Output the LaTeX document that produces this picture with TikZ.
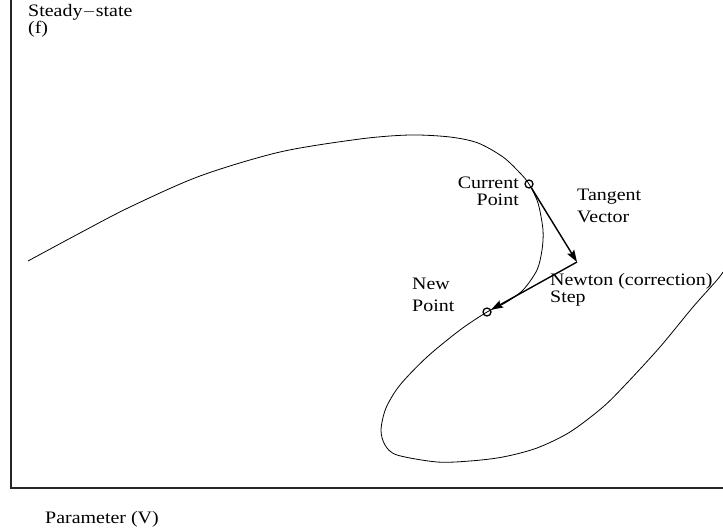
\documentclass[tikz,border=0pt]{standalone}
\usepackage{fontspec}
\setmainfont{Liberation Serif}[FakeStretch=1.14]
\usetikzlibrary{arrows.meta}
\begin{document}
\begin{tikzpicture}[x=1pt,y=-1pt,
  lbl/.style={inner sep=0pt,align=left,font={\fontsize{17.5}{13}\selectfont\lineskiplimit=-20pt}},
  lblr/.style={lbl,align=right},
  axis/.style={line width=1.3pt,draw=black!85},
  curve/.style={line width=0.8pt},
  vec/.style={line width=1.4pt,-{Stealth[length=12pt,width=8pt,inset=2pt]}},
  pt/.style={circle,draw,line width=1.3pt,minimum size=8pt,inner sep=0pt}]
\useasboundingbox (0,0) rectangle (723,529);
% axes
\coordinate (ytop) at (11,0);
\coordinate (O) at (11,488);
\coordinate (xend) at (723,488);
\draw[axis] (ytop) -- (O) -- (xend);
% solution curve
\draw[curve] plot[smooth,tension=0.5] coordinates {
 (28,261) (80,233) (130,207) (200,176) (280,152) (360,139) (410,135)
 (450,137) (478,143) (503,157) (520,173) (529,184) (538,203) (543,230)
 (542,250) (537,270) (523,290) (505,303) (487,312) (460,330) (427,357)
 (400,385) (386,408) (381,430) (385,445) (397,455) (437,462) (470,461)
 (503,457) (537,448) (570,432) (603,407) (627,383) (660,347) (693,307)
 (717,280) (723,272)};
% points
\node[pt] (cur) at (529,184) {};
\node[pt] (new) at (487,312) {};
\coordinate (tip) at (577,262);
\draw[vec] (cur) -- (tip);
\draw[vec] (tip) -- (new);
% labels
\node[lbl,anchor=north west] (ylab) at (28,4) {Steady$-$state\\[4.5pt](f)};
\node[lbl,anchor=base west] (xlab) at (45,523) {Parameter (V)};
\node[lblr,anchor=north east] (curlab) at (519,177) {Current\\[4pt]Point};
\node[lbl,anchor=north west] (tanlab) at (577,189) {Tangent\\[9pt]Vector};
\node[lbl,anchor=north west] (newtlab) at (550,273) {Newton (correction)\\[4pt]Step};
\node[lbl,anchor=north west] (newlab) at (412,278) {New\\[9pt]Point};
\end{tikzpicture}
\end{document}
